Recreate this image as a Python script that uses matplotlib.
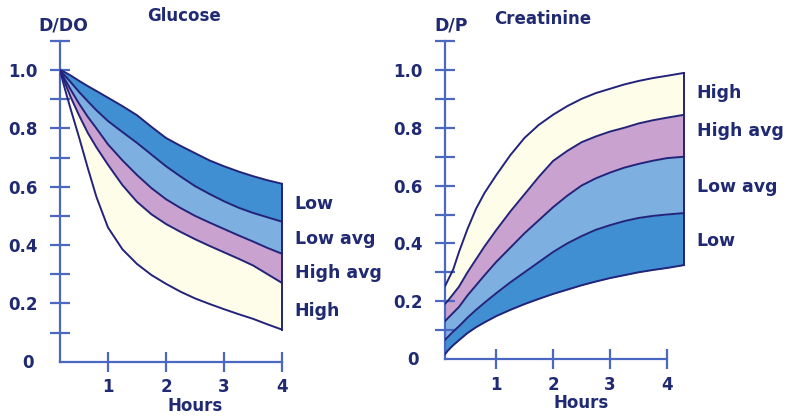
import numpy as np
import matplotlib
matplotlib.use("Agg")
import matplotlib.pyplot as plt

# Glucose (D/D0) - band boundaries, top to bottom
glu_hours = [0.17, 0.25, 0.35, 0.5, 0.65, 0.8, 1.0, 1.25, 1.5, 1.75, 2.0,
             2.25, 2.5, 2.75, 3.0, 3.25, 3.5, 3.75, 4.0]
glu_low_top = [1.0, 0.993, 0.982, 0.963, 0.945, 0.928, 0.905, 0.876, 0.845, 0.805, 0.767,
               0.74, 0.715, 0.69, 0.67, 0.652, 0.636, 0.622, 0.61]
glu_low_lowavg = [1.0, 0.982, 0.96, 0.925, 0.893, 0.862, 0.825, 0.787, 0.75, 0.71, 0.67,
                  0.635, 0.602, 0.575, 0.55, 0.528, 0.51, 0.495, 0.48]
glu_lowavg_highavg = [1.0, 0.97, 0.935, 0.885, 0.84, 0.80, 0.745, 0.69, 0.64, 0.595, 0.557,
                      0.527, 0.50, 0.477, 0.455, 0.433, 0.412, 0.39, 0.37]
glu_highavg_high = [1.0, 0.96, 0.91, 0.845, 0.785, 0.735, 0.675, 0.605, 0.548, 0.505, 0.472,
                    0.445, 0.42, 0.397, 0.375, 0.353, 0.33, 0.30, 0.27]
glu_high_bottom = [1.0, 0.94, 0.87, 0.77, 0.665, 0.565, 0.46, 0.385, 0.335, 0.297, 0.267,
                   0.24, 0.217, 0.198, 0.18, 0.163, 0.147, 0.128, 0.11]

# Creatinine (D/P) - band boundaries, top to bottom
cre_hours = [0.1, 0.15, 0.25, 0.35, 0.5, 0.65, 0.8, 1.0, 1.25, 1.5, 1.75, 2.0,
             2.25, 2.5, 2.75, 3.0, 3.25, 3.5, 3.75, 4.0, 4.3]
cre_high_top = [0.25, 0.27, 0.31, 0.37, 0.45, 0.52, 0.575, 0.635, 0.705, 0.765, 0.81, 0.845,
                0.875, 0.90, 0.92, 0.935, 0.95, 0.962, 0.972, 0.98, 0.99]
cre_high_highavg = [0.19, 0.20, 0.225, 0.25, 0.30, 0.345, 0.39, 0.445, 0.51, 0.57, 0.63, 0.685,
                    0.72, 0.75, 0.77, 0.787, 0.80, 0.815, 0.826, 0.835, 0.845]
cre_highavg_lowavg = [0.13, 0.14, 0.16, 0.18, 0.22, 0.255, 0.29, 0.335, 0.385, 0.435, 0.48, 0.525,
                      0.565, 0.60, 0.625, 0.645, 0.662, 0.675, 0.686, 0.695, 0.70]
cre_lowavg_low = [0.065, 0.075, 0.095, 0.113, 0.143, 0.17, 0.195, 0.227, 0.265, 0.30, 0.335, 0.37,
                  0.40, 0.425, 0.447, 0.463, 0.477, 0.488, 0.495, 0.50, 0.505]
cre_low_bottom = [0.015, 0.028, 0.048, 0.065, 0.09, 0.11, 0.127, 0.148, 0.17, 0.19, 0.208, 0.225,
                  0.24, 0.255, 0.268, 0.28, 0.29, 0.30, 0.308, 0.315, 0.325]

band_names = ["Low", "Low avg", "High avg", "High"]
c_low = "#3f8fd2"
c_lowavg = "#7db0e0"
c_highavg = "#c9a2cf"
c_high = "#fdfdea"
line_c = "#23237a"
axis_c = "#4a68c0"
text_c = "#1f2a72"

plt.rcParams['font.family'] = ['DejaVu Sans']

fig = plt.figure(figsize=(7.87, 4.18), dpi=100)
W, H = 787, 418


def make_axes(x0, h0, h_scale, y0_pix, y_scale):
    # pixel geometry -> figure fraction
    xmax = 5.5
    left = (h_scale * h0 + x0) / W
    right = (h_scale * xmax + x0) / W
    bottom = (H - y0_pix) / H
    top = (H - (y0_pix - y_scale * 1.1)) / H
    ax = fig.add_axes([left, bottom, right - left, top - bottom])
    ax.set_xlim(h0, xmax)
    ax.set_ylim(0, 1.1)
    for s in ["top", "right"]:
        ax.spines[s].set_visible(False)
    for s in ["left", "bottom"]:
        ax.spines[s].set_color(axis_c)
        ax.spines[s].set_linewidth(1.6)
    ax.spines["bottom"].set_bounds(h0, 4.0)
    ax.set_xticks([1, 2, 3, 4])
    ax.set_xticklabels(["1", "2", "3", "4"])
    yt = np.arange(0.1, 1.15, 0.1)
    ylabels = []
    for v in yt:
        k = int(round(v * 10))
        ylabels.append("%.1f" % (k / 10) if k % 2 == 0 and k <= 10 else "")
    ax.set_yticks(yt)
    ax.set_yticklabels(ylabels)
    ax.tick_params(direction="inout", length=14, width=1.6, color=axis_c,
                   labelcolor=text_c, labelsize=12)
    ax.tick_params(axis="y", pad=9)
    ax.tick_params(axis="x", pad=5)
    for lab in ax.get_xticklabels() + ax.get_yticklabels():
        lab.set_fontweight("bold")
    # the origin label sits a bit off the tick column
    ax.annotate("0", xy=(0, 0), xycoords=("axes fraction", "data"),
                xytext=(-19, -1), textcoords="offset points", ha="right", va="center",
                color=text_c, fontsize=12, fontweight="bold", annotation_clip=False)
    ax.set_xlabel("Hours", color=text_c, fontsize=12, fontweight="bold")
    ax.xaxis.set_label_coords(2.5, -0.11, transform=ax.get_xaxis_transform())
    return ax


# left panel: hour -> px = 50 + 58 h ; value -> px = 361.7 - 291.7 v
ax1 = make_axes(50, 0.17, 58, 361.7, 291.7)
# right panel: hour -> px = 439 + 57 h ; value -> px = 359 - 289 v
ax2 = make_axes(439, 0.1, 57, 359, 289)

glu = [glu_low_top, glu_low_lowavg, glu_lowavg_highavg, glu_highavg_high, glu_high_bottom]
cols = [c_low, c_lowavg, c_highavg, c_high]
for i in range(4):
    ax1.fill_between(glu_hours, glu[i], glu[i + 1], color=cols[i], lw=0, zorder=1)
for c in glu:
    ax1.plot(glu_hours, c, color=line_c, lw=1.4, zorder=3, solid_capstyle="round")
ax1.plot([glu_hours[-1], glu_hours[-1]], [glu_high_bottom[-1], glu_low_top[-1]],
         color=line_c, lw=1.4, zorder=3)

cre = [cre_high_top, cre_high_highavg, cre_highavg_lowavg, cre_lowavg_low, cre_low_bottom]
cols2 = [c_high, c_highavg, c_lowavg, c_low]
for i in range(4):
    ax2.fill_between(cre_hours, cre[i], cre[i + 1], color=cols2[i], lw=0, zorder=1)
for c in cre:
    ax2.plot(cre_hours, c, color=line_c, lw=1.4, zorder=3, solid_capstyle="round")
ax2.plot([cre_hours[-1], cre_hours[-1]], [cre_low_bottom[-1], cre_high_top[-1]],
         color=line_c, lw=1.4, zorder=3)

# band labels
glu_label_y = [0.54, 0.42, 0.305, 0.175]
for name, y in zip(band_names, glu_label_y):
    ax1.text(4.22, y, name, color=text_c, fontsize=12.5, fontweight="bold", va="center")
cre_label_y = [0.92, 0.79, 0.595, 0.41]
for name, y in zip(band_names[::-1], cre_label_y):
    ax2.text(4.52, y, name, color=text_c, fontsize=12.5, fontweight="bold", va="center")

# titles and axis names
fig.text(184 / W, 1 - 16 / H, "Glucose", color=text_c, fontsize=12, fontweight="bold",
         ha="center", va="center")
fig.text(63 / W, 1 - 25 / H, "D/DO", color=text_c, fontsize=12.5, fontweight="bold",
         ha="center", va="center")
fig.text(543 / W, 1 - 19 / H, "Creatinine", color=text_c, fontsize=12, fontweight="bold",
         ha="center", va="center")
fig.text(451 / W, 1 - 25 / H, "D/P", color=text_c, fontsize=12.5, fontweight="bold",
         ha="center", va="center")

fig.savefig("out.png", dpi=100)
